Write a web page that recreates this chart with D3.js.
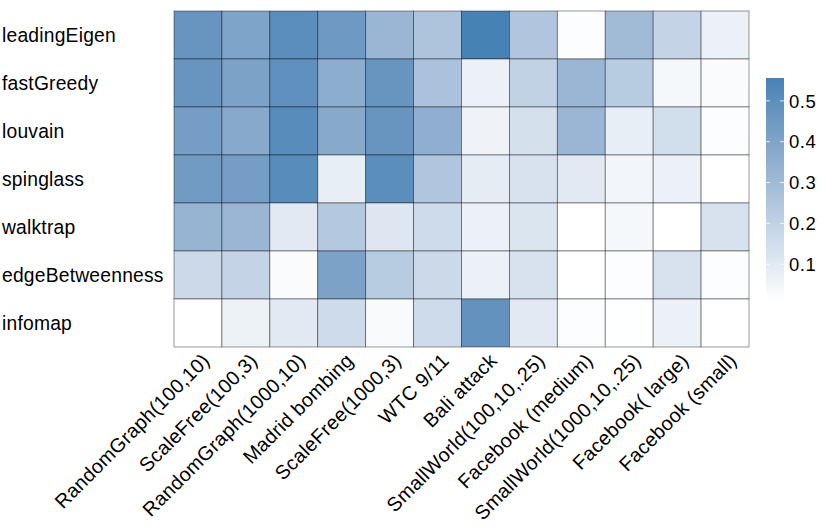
<!DOCTYPE html>
<html>
<head>
<meta charset="utf-8">
<script src="https://cdn.jsdelivr.net/npm/d3@7"></script>
<style>
  body { margin: 0; background: #fff; }
  text { font-family: "Liberation Sans", Arial, sans-serif; fill: #000; }
</style>
</head>
<body>
<svg id="chart" width="830" height="529"></svg>
<script>
const networks = ["RandomGraph(100,10)", "ScaleFree(100,3)", "RandomGraph(1000,10)", "Madrid bombing",
  "ScaleFree(1000,3)", "WTC 9/11", "Bali attack", "SmallWorld(100,10,.25)", "Facebook (medium)",
  "SmallWorld(1000,10,.25)", "Facebook( large)", "Facebook (small)"];
const algorithms = ["leadingEigen", "fastGreedy", "louvain", "spinglass", "walktrap", "edgeBetweenness", "infomap"];

// one array per algorithm, values in network order
const leadingEigen    = [0.47, 0.40, 0.50, 0.45, 0.32, 0.26, 0.556, 0.25, 0.02, 0.30, 0.19, 0.07];
const fastGreedy      = [0.47, 0.41, 0.49, 0.36, 0.47, 0.27, 0.07, 0.20, 0.32, 0.23, 0.04, 0.025];
const louvain         = [0.43, 0.38, 0.51, 0.38, 0.47, 0.35, 0.06, 0.14, 0.32, 0.08, 0.15, 0.02];
const spinglass       = [0.44, 0.43, 0.51, 0.08, 0.50, 0.25, 0.09, 0.13, 0.10, 0.05, 0.07, 0.01];
const walktrap        = [0.33, 0.32, 0.10, 0.24, 0.11, 0.16, 0.07, 0.12, 0.01, 0.04, 0.01, 0.13];
const edgeBetweenness = [0.17, 0.19, 0.025, 0.41, 0.23, 0.17, 0.07, 0.13, 0.01, 0.02, 0.13, 0.02];
const infomap         = [0.01, 0.065, 0.10, 0.16, 0.03, 0.16, 0.48, 0.10, 0.02, 0.012, 0.07, 0.01];
const legendTicks = [0.1, 0.2, 0.3, 0.4, 0.5];

const rows = { leadingEigen, fastGreedy, louvain, spinglass, walktrap, edgeBetweenness, infomap };
const cells = [];
algorithms.forEach(a => rows[a].forEach((v, i) => cells.push({ alg: a, net: networks[i], value: v })));

const svg = d3.select("#chart");
const x = d3.scaleBand().domain(networks).range([174, 749]);
const y = d3.scaleBand().domain(algorithms).range([11, 347]);

const vmin = d3.min(cells, d => d.value), vmax = d3.max(cells, d => d.value);
const color = d3.scaleLinear().domain([vmin, vmax]).range(["white", "steelblue"]).interpolate(d3.interpolateLab);

svg.append("g").selectAll("rect")
  .data(cells)
  .join("rect")
  .attr("x", d => x(d.net))
  .attr("y", d => y(d.alg))
  .attr("width", x.bandwidth())
  .attr("height", y.bandwidth())
  .attr("fill", d => color(d.value))
  .attr("stroke", "rgba(0,0,0,0.5)")
  .attr("stroke-width", 0.8);

// row labels
svg.append("g").selectAll("text")
  .data(algorithms)
  .join("text")
  .attr("x", 2)
  .attr("y", d => y(d) + y.bandwidth() / 2)
  .attr("dy", "0.35em")
  .attr("font-size", 19.3)
  .attr("letter-spacing", 0.2)
  .text(d => d);

// column labels, rotated
svg.append("g").selectAll("text")
  .data(networks)
  .join("text")
  .attr("text-anchor", "end")
  .attr("font-size", 19.8)
  .attr("letter-spacing", 0.3)
  .attr("transform", d => `translate(${x(d) + x.bandwidth() / 2 + 3},${352}) rotate(-45)`)
  .attr("dy", "0.7em")
  .text(d => d);

// legend colour bar
const lg = d3.scaleLinear().domain([vmin, vmax]).range([301, 78]);
const defs = svg.append("defs");
const grad = defs.append("linearGradient").attr("id", "lgrad")
  .attr("x1", 0).attr("y1", 1).attr("x2", 0).attr("y2", 0);
d3.range(0, 1.0001, 0.1).forEach(t => {
  grad.append("stop").attr("offset", t).attr("stop-color", color(vmin + t * (vmax - vmin)));
});
svg.append("rect").attr("x", 766).attr("y", 78).attr("width", 18).attr("height", 223)
  .attr("fill", "url(#lgrad)");

const lt = svg.append("g").selectAll("g").data(legendTicks).join("g");
lt.append("line").attr("x1", 766).attr("x2", 770).attr("y1", d => lg(d)).attr("y2", d => lg(d))
  .attr("stroke", "white").attr("stroke-width", 0.8);
lt.append("line").attr("x1", 780).attr("x2", 784).attr("y1", d => lg(d)).attr("y2", d => lg(d))
  .attr("stroke", "white").attr("stroke-width", 0.8);
lt.append("text").attr("x", 789).attr("y", d => lg(d)).attr("dy", "0.36em")
  .attr("font-size", 18.5).attr("letter-spacing", 0.5).text(d => d.toFixed(1));
</script>
</body>
</html>
